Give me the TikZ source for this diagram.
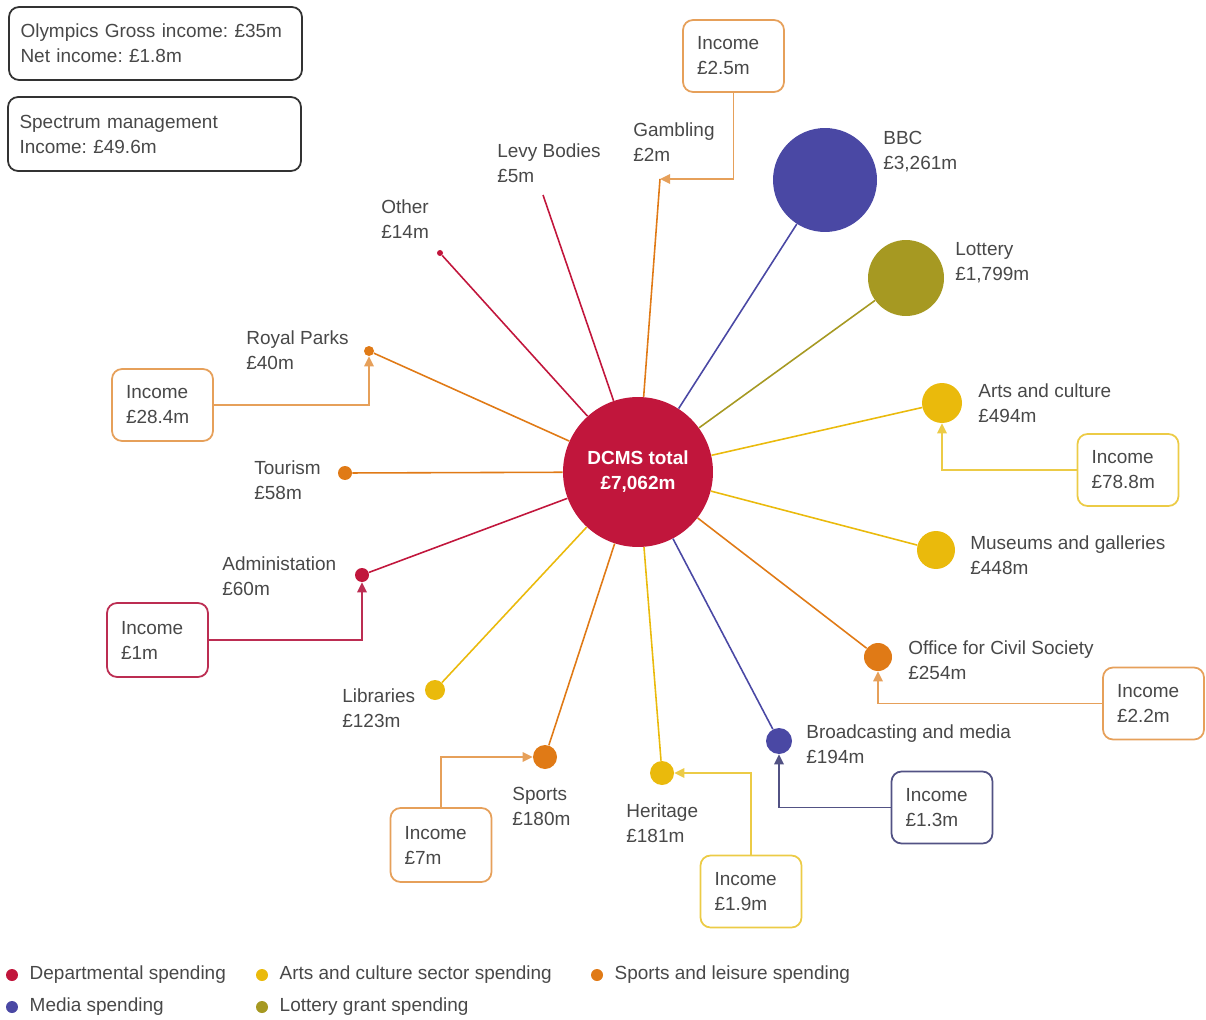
\documentclass[tikz,border=0pt]{standalone}
\usepackage{fontspec}
\setmainfont{Liberation Sans}
\usepackage{xcolor}
\usepackage{tikz}
\usetikzlibrary{arrows.meta}
\usetikzlibrary{positioning}
\frenchspacing

\definecolor{dept}{RGB}{193,22,60}
\definecolor{arts}{RGB}{234,186,12}
\definecolor{sport}{RGB}{224,122,22}
\definecolor{media}{RGB}{74,72,164}
\definecolor{lotto}{RGB}{166,153,34}
\definecolor{txt}{RGB}{72,72,72}
\definecolor{sportbox}{RGB}{230,160,90}
\definecolor{artsbox}{RGB}{236,203,70}
\definecolor{deptbox}{RGB}{188,45,82}
\definecolor{mediabox}{RGB}{82,82,132}

\tikzset{
  every node/.style={font=\fontsize{10.8}{14.2}\selectfont},
  spot/.style={circle, inner sep=0pt, fill=#1},
  lbl/.style={anchor=north west, inner sep=0pt, align=left, text=txt},
  incbox/.style={draw=#1, rounded corners=0.2cm, line width=1pt, align=left, text=txt,
    text width=1.46cm, inner xsep=0.28cm, minimum height=1.44cm},
  infobox/.style={draw=txt!70!black, rounded corners=0.2cm, line width=1pt, align=left, text=txt,
    text width=5.4cm, inner xsep=0.23cm, minimum height=1.46cm},
  spoke/.style={draw=#1, line width=0.9pt},
  feed/.style={draw=#1, line width=1pt, -{Triangle[length=0.2cm,width=0.19cm]}}
}

\begin{document}
\begin{tikzpicture}[x=0.02cm, y=-0.02cm]
            \useasboundingbox (0,0) rectangle (1206,1020);
            \node[infobox] (olymp) at (155.5,43.5) {Olympics Gross income: £35m\\Net income: £1.8m};
            \node[infobox, minimum height=1.48cm] (spectrum) at (154.5,134) {Spectrum management\\Income: £49.6m};

            \node[spot=dept, minimum size=3cm, text=white, align=center,
                  font=\fontsize{10.8}{14.2}\selectfont\bfseries] (dcms) at (638,472) {DCMS total\\£7,062m};
            \node[spot=media, minimum size=2.08cm] (bbc) at (825,180) {};
            \node[spot=lotto, minimum size=1.52cm] (lottery) at (906,278) {};
            \node[spot=arts, minimum size=0.8cm] (artsc) at (942,403) {};
            \node[spot=arts, minimum size=0.76cm] (museums) at (936,550) {};
            \node[spot=sport, minimum size=0.56cm] (office) at (878,657) {};
            \node[spot=media, minimum size=0.52cm] (bcast) at (779,741) {};
            \node[spot=arts, minimum size=0.48cm] (heritage) at (662,773) {};
            \node[spot=sport, minimum size=0.48cm] (sports) at (545,757) {};
            \node[spot=arts, minimum size=0.4cm] (libraries) at (435,690) {};
            \node[spot=dept, minimum size=0.28cm] (admin) at (362,575) {};
            \node[spot=sport, minimum size=0.28cm] (tourism) at (345,473) {};
            \node[spot=sport, minimum size=0.2cm] (royal) at (369,351) {};
            \node[spot=dept, minimum size=0.12cm] (other) at (440,253) {};
            \coordinate (levy) at (543,195);
            \coordinate (gamb) at (660,179);

            \draw[spoke=media] (dcms) -- (bbc);
            \draw[spoke=lotto] (dcms) -- (lottery);
            \draw[spoke=arts] (dcms) -- (artsc);
            \draw[spoke=arts] (dcms) -- (museums);
            \draw[spoke=sport] (dcms) -- (office);
            \draw[spoke=media] (dcms) -- (bcast);
            \draw[spoke=arts] (dcms) -- (heritage);
            \draw[spoke=sport] (dcms) -- (sports);
            \draw[spoke=arts] (dcms) -- (libraries);
            \draw[spoke=dept] (dcms) -- (admin);
            \draw[spoke=sport] (dcms) -- (tourism);
            \draw[spoke=sport] (dcms) -- (royal);
            \draw[spoke=dept] (dcms) -- (other);
            \draw[spoke=dept] (dcms) -- (levy);
            \draw[spoke=sport] (dcms) -- (gamb);

            \node[lbl] (levyl) at (497,143) {Levy Bodies\\£5m};
            \node[lbl] (gambl) at (633,122) {Gambling\\£2m};
            \node[lbl] (bbcl) at (883,131) {BBC\\£3,261m};
            \node[lbl] (lotteryl) at (955,242) {Lottery\\£1,799m};
            \node[lbl] (artsl) at (978,383) {Arts and culture\\£494m};
            \node[lbl] (museumsl) at (970,535) {Museums and galleries\\£448m};
            \node[lbl] (officel) at (908,640) {Office for Civil Society\\£254m};
            \node[lbl] (bcastl) at (806,724) {Broadcasting and media\\£194m};
            \node[lbl] (heritagel) at (626,803) {Heritage\\£181m};
            \node[lbl] (sportsl) at (512,787) {Sports\\£180m};
            \node[lbl] (librariesl) at (342,688) {Libraries\\£123m};
            \node[lbl] (adminl) at (222,556) {Administation\\£60m};
            \node[lbl] (tourisml) at (254,460) {Tourism\\£58m};
            \node[lbl] (royall) at (246,330) {Royal Parks\\£40m};
            \node[lbl] (otherl) at (381,199) {Other\\£14m};

            \node[incbox=sportbox] (gambinc) at (733.5,56) {Income\\£2.5m};
            \node[incbox=sportbox] (royalinc) at (162.5,405) {Income\\£28.4m};
            \node[incbox=deptbox, minimum height=1.48cm] (admininc) at (157.5,640) {Income\\£1m};
            \node[incbox=artsbox] (artsinc) at (1128,470) {Income\\£78.8m};
            \node[incbox=sportbox] (officeinc) at (1153.5,703.5) {Income\\£2.2m};
            \node[incbox=mediabox] (bcastinc) at (942,807.5) {Income\\£1.3m};
            \node[incbox=artsbox] (heritageinc) at (751,891.5) {Income\\£1.9m};
            \node[incbox=sportbox, minimum height=1.48cm] (sportsinc) at (441,845) {Income\\£7m};

            \draw[feed=sportbox] (gambinc) |- (gamb);
            \draw[feed=sportbox] (royalinc) -| (royal);
            \draw[feed=deptbox] (admininc) -| (admin);
            \draw[feed=artsbox] (artsinc) -| (artsc);
            \draw[feed=sportbox] (officeinc) -| (office);
            \draw[feed=mediabox] (bcastinc) -| (bcast);
            \draw[feed=artsbox] (heritageinc) |- (heritage);
            \draw[feed=sportbox] (sportsinc) |- (sports);

            \node[spot=dept, minimum size=0.24cm] (lg1) at (12,975) {};
            \node[right=0.22cm of lg1, inner sep=0pt, text=txt] (lg1t) {Departmental spending};
            \node[spot=arts, minimum size=0.24cm] (lg2) at (262,975) {};
            \node[right=0.22cm of lg2, inner sep=0pt, text=txt] (lg2t) {Arts and culture sector spending};
            \node[spot=sport, minimum size=0.24cm] (lg3) at (597,975) {};
            \node[right=0.22cm of lg3, inner sep=0pt, text=txt] (lg3t) {Sports and leisure spending};
            \node[spot=media, minimum size=0.24cm] (lg4) at (12,1007) {};
            \node[right=0.22cm of lg4, inner sep=0pt, text=txt] (lg4t) {Media spending};
            \node[spot=lotto, minimum size=0.24cm] (lg5) at (262,1007) {};
            \node[right=0.22cm of lg5, inner sep=0pt, text=txt] (lg5t) {Lottery grant spending};
        \end{tikzpicture}
\end{document}
